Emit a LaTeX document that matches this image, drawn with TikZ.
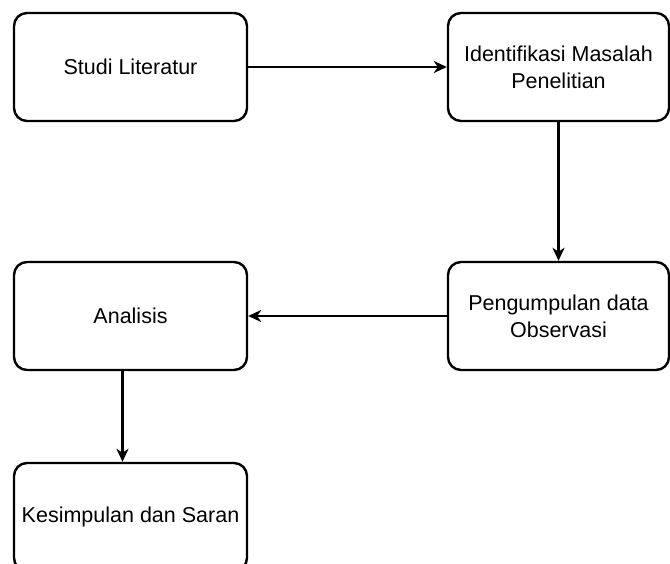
\documentclass[tikz,border=0pt]{standalone}
\usepackage{fontspec}
\setmainfont{Liberation Sans}
\usetikzlibrary{arrows.meta}
\begin{document}
\begin{tikzpicture}[x=1pt,y=-1pt,
  box/.style={draw=black, line width=2.4pt, rounded corners=13pt, fill=white,
    minimum height=108pt, inner sep=0pt, align=center,
    font=\fontsize{21.5}{27}\selectfont},
  lbox/.style={box, minimum width=233pt},
  rbox/.style={box, minimum width=221pt},
  conn/.style={line width=2.4pt, -{Stealth[length=13pt,width=12pt,inset=4pt]}}]
\useasboundingbox[fill=white] (0,0) rectangle (670,564);
\begin{scope}
\clip (0,0) rectangle (670,564);
\node[lbox] (studi) at (130.5,67) {Studi Literatur};
\node[rbox] (ident) at (558.5,67) {Identifikasi Masalah\\Penelitian};
\node[lbox] (anal) at (130.5,316) {Analisis};
\node[rbox] (peng) at (558.5,316) {Pengumpulan data\\Observasi};
\node[lbox] (kesim) at (130.5,517) {Kesimpulan dan Saran};
\draw[conn] (studi) -- (ident);
\draw[conn] (ident) -- (peng);
\draw[conn] (peng) -- (anal);
\draw[conn] ([xshift=-8pt]anal.south) -- ([xshift=-8pt]kesim.north);
\end{scope}
\end{tikzpicture}
\end{document}
